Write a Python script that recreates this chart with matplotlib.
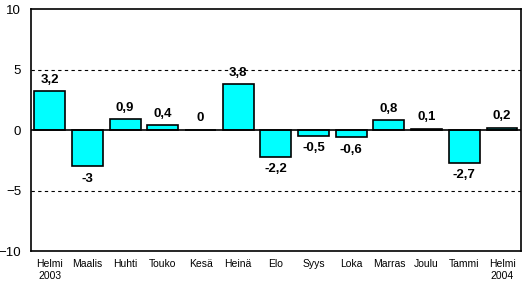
import matplotlib
matplotlib.use("Agg")
import matplotlib.pyplot as plt

months = ["Helmi\n2003", "Maalis", "Huhti", "Touko", "Kesä", "Heinä", "Elo",
          "Syys", "Loka", "Marras", "Joulu", "Tammi", "Helmi\n2004"]
values = [3.2, -3, 0.9, 0.4, 0, 3.8, -2.2, -0.5, -0.6, 0.8, 0.1, -2.7, 0.2]

plt.rcParams['font.family'] = ['Liberation Sans', 'DejaVu Sans']

fig = plt.figure(figsize=(5.24, 2.83), dpi=100)
ax = fig.add_axes([0.059, 0.113, 0.935, 0.855])

x = range(len(months))
ax.bar(x, values, width=0.82, color='#00ffff', edgecolor='black', linewidth=1.2, zorder=3)

ax.axhline(0, color='black', linewidth=1.2, zorder=4)
for y in (5, -5):
    ax.axhline(y, color='black', linewidth=0.8, linestyle=(0, (3, 3)), zorder=1)

for i, v in enumerate(values):
    txt = f"{v:g}".replace('.', ',')
    if v >= 0:
        ax.annotate(txt, (i, v), xytext=(0, 4), textcoords='offset points',
                    ha='center', va='bottom', fontsize=9.5, fontweight='bold')
    else:
        ax.annotate(txt, (i, v), xytext=(0, -4.5), textcoords='offset points',
                    ha='center', va='top', fontsize=9.5, fontweight='bold')

ax.set_xlim(-0.5, len(months) - 0.5)
ax.set_ylim(-10, 10)
ax.set_yticks([-10, -5, 0, 5, 10])
ax.set_xticks(list(x))
ax.set_xticklabels(months, fontsize=7.5, linespacing=1.25)
ax.tick_params(axis='y', length=0, labelsize=9.5, pad=7)
ax.tick_params(axis='x', length=0, pad=6)
for s in ax.spines.values():
    s.set_linewidth(1.2)

fig.savefig("out.png", dpi=100)
